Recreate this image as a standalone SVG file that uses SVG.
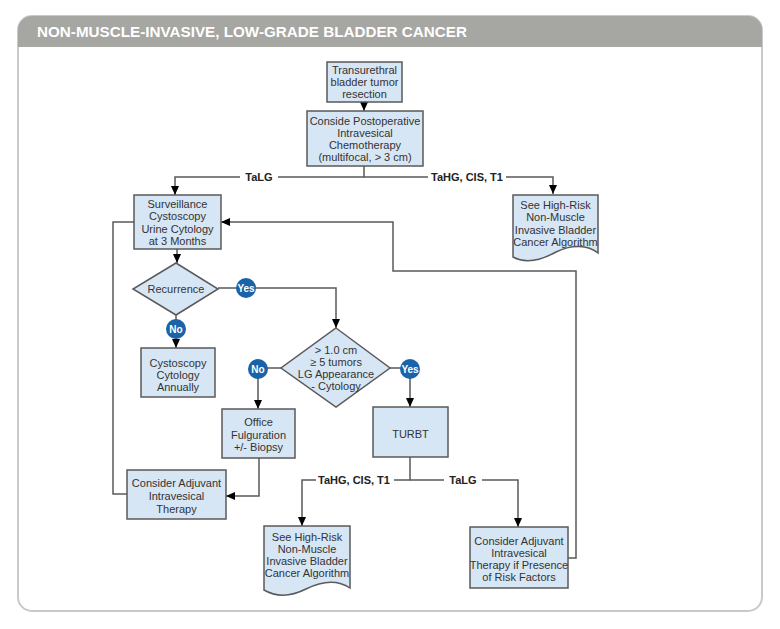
<svg xmlns="http://www.w3.org/2000/svg" width="780" height="629" viewBox="0 0 780 629">
<defs>
<marker id="arr" markerUnits="userSpaceOnUse" markerWidth="10" markerHeight="8" refX="9" refY="4" orient="auto">
<path d="M0,0 L9,4 L0,8 Z" fill="#000"/>
</marker>
<clipPath id="hdr"><rect x="18" y="16" width="744" height="31"/></clipPath>
</defs>
<style>
.box{fill:#d7e6f5;stroke:#5a5a5a;stroke-width:1.5}
.t{font-family:"Liberation Sans",Arial,sans-serif;font-size:11px;fill:#333;text-anchor:middle}
.lbl{font-family:"Liberation Sans",Arial,sans-serif;font-size:11px;font-weight:bold;fill:#222;text-anchor:middle}
.ln{fill:none;stroke:#5a5a5a;stroke-width:1.5}
.ar{marker-end:url(#arr)}
.dot{fill:#1a63a8}
.dt{font-family:"Liberation Sans",Arial,sans-serif;font-size:10px;font-weight:bold;fill:#fff;text-anchor:middle}
</style>
<rect x="0" y="0" width="780" height="629" fill="#fff"/>
<rect x="18" y="16" width="744" height="595" rx="14" fill="#fff" stroke="#c9c9c9" stroke-width="2"/>
<rect x="18" y="16" width="744" height="60" rx="14" fill="#a6a6a2" clip-path="url(#hdr)"/>
<text x="37" y="37" font-family="'Liberation Sans',Arial,sans-serif" font-size="15" font-weight="bold" fill="#fff" textLength="430" lengthAdjust="spacingAndGlyphs">NON-MUSCLE-INVASIVE, LOW-GRADE BLADDER CANCER</text>

<g id="connectors">
<path class="ln ar" d="M364,102 V111"/>
<path class="ln ar" d="M364,166 V177 H175 V195"/>
<path class="ln ar" d="M364,177 H553 V194"/>
<path class="ln ar" d="M177,249 V263"/>
<path class="ln ar" d="M218,288 H336 V328"/>
<path class="ln ar" d="M176,315 V348"/>
<path class="ln ar" d="M281,368 H258 V409"/>
<path class="ln ar" d="M390,368 H410 V407"/>
<path class="ln ar" d="M259,458 V496 H226"/>
<path class="ln" d="M127,494 H113 V222 H134"/>
<path class="ln ar" d="M568,558 H576 V271 H393 V222 H221"/>
<path class="ln ar" d="M410,457 V480 H302 V526"/>
<path class="ln ar" d="M410,480 H518 V527"/>
<rect x="240" y="170" width="38" height="14" fill="#fff"/>
<text class="lbl" x="259" y="181">TaLG</text>
<rect x="428" y="170" width="78" height="14" fill="#fff"/>
<text class="lbl" x="467" y="181">TaHG, CIS, T1</text>
<rect x="316" y="473" width="78" height="14" fill="#fff"/>
<text class="lbl" x="354" y="484">TaHG, CIS, T1</text>
<rect x="444" y="473" width="38" height="14" fill="#fff"/>
<text class="lbl" x="463" y="484">TaLG</text>
<circle class="dot" cx="246" cy="288" r="10"/>
<text class="dt" x="246" y="291.5">Yes</text>
<circle class="dot" cx="176" cy="329" r="10"/>
<text class="dt" x="176" y="332.5">No</text>
<circle class="dot" cx="258" cy="369" r="10"/>
<text class="dt" x="258" y="372.5">No</text>
<circle class="dot" cx="410" cy="369" r="10"/>
<text class="dt" x="410" y="372.5">Yes</text>
</g>

<g id="n-tur">
<rect class="box" x="327" y="62" width="75" height="40"/>
<text class="t" x="364.5" y="74">Transurethral</text>
<text class="t" x="364.5" y="86">bladder tumor</text>
<text class="t" x="364.5" y="98">resection</text>
</g>
<g id="n-chemo">
<rect class="box" x="307" y="111" width="116" height="55"/>
<text class="t" x="365" y="125">Conside Postoperative</text>
<text class="t" x="365" y="137">Intravesical</text>
<text class="t" x="365" y="149">Chemotherapy</text>
<text class="t" x="365" y="161">(multifocal, &gt; 3 cm)</text>
</g>
<g id="n-surv">
<rect class="box" x="134" y="195" width="87" height="54"/>
<text class="t" x="177.5" y="208">Surveillance</text>
<text class="t" x="177.5" y="220">Cystoscopy</text>
<text class="t" x="177.5" y="233">Urine Cytology</text>
<text class="t" x="177.5" y="245">at 3 Months</text>
</g>
<g id="n-doc1">
<path class="box" d="M513,195 H598 V253 C588,245 572,244 556,252 C538,262 524,263 513,257 Z"/>
<text class="t" x="555.5" y="209">See High-Risk</text>
<text class="t" x="555.5" y="221">Non-Muscle</text>
<text class="t" x="555.5" y="234">Invasive Bladder</text>
<text class="t" x="555.5" y="246">Cancer Algorithm</text>
</g>
<g id="n-rec">
<polygon class="box" points="176,263 218,289 176,315 133,289"/>
<text class="t" x="176" y="293">Recurrence</text>
</g>
<g id="n-annual">
<rect class="box" x="141" y="348" width="74" height="49"/>
<text class="t" x="178" y="367">Cystoscopy</text>
<text class="t" x="178" y="379">Cytology</text>
<text class="t" x="178" y="391">Annually</text>
</g>
<g id="n-crit">
<polygon class="box" points="336,328 390,368 336,407 281,368"/>
<text class="t" x="336" y="354">&gt; 1.0 cm</text>
<text class="t" x="336" y="366">≥ 5 tumors</text>
<text class="t" x="336" y="378">LG Appearance</text>
<text class="t" x="336" y="390">- Cytology</text>
</g>
<g id="n-office">
<rect class="box" x="222" y="409" width="73" height="49"/>
<text class="t" x="258.5" y="426">Office</text>
<text class="t" x="258.5" y="439">Fulguration</text>
<text class="t" x="258.5" y="451">+/- Biopsy</text>
</g>
<g id="n-turbt">
<rect class="box" x="373" y="407" width="75" height="50"/>
<text class="t" x="410.5" y="438">TURBT</text>
</g>
<g id="n-adj">
<rect class="box" x="127" y="470" width="99" height="49"/>
<text class="t" x="176.5" y="487">Consider Adjuvant</text>
<text class="t" x="176.5" y="500">Intravesical</text>
<text class="t" x="176.5" y="513">Therapy</text>
</g>
<g id="n-doc2">
<path class="box" d="M264,526 H350 V588 C338,580 322,581 306,589 C290,597 276,597 264,590 Z"/>
<text class="t" x="307" y="541">See High-Risk</text>
<text class="t" x="307" y="553">Non-Muscle</text>
<text class="t" x="307" y="565">Invasive Bladder</text>
<text class="t" x="307" y="577">Cancer Algorithm</text>
</g>
<g id="n-adj2">
<rect class="box" x="470" y="527" width="98" height="61"/>
<text class="t" x="519" y="545">Consider Adjuvant</text>
<text class="t" x="519" y="557">Intravesical</text>
<text class="t" x="519" y="569">Therapy if Presence</text>
<text class="t" x="519" y="581">of Risk Factors</text>
</g>
</svg>
